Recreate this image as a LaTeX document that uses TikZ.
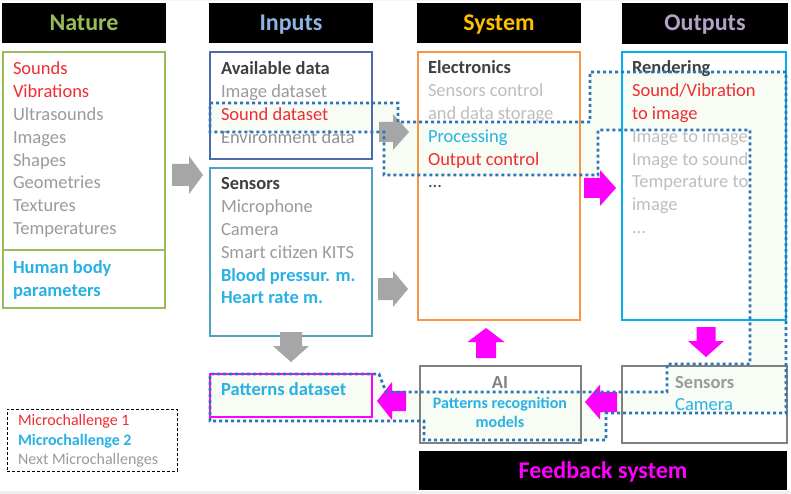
\documentclass[tikz,border=0pt]{standalone}
\usepackage{fontspec}
\setmainfont{Carlito}
\usetikzlibrary{calc}
\definecolor{natG}{RGB}{155,187,89}
\definecolor{inpB}{RGB}{141,180,226}
\definecolor{sysY}{RGB}{255,192,0}
\definecolor{outP}{RGB}{179,162,199}
\definecolor{availB}{RGB}{74,108,172}
\definecolor{sensT}{RGB}{75,165,195}
\definecolor{elecO}{RGB}{247,150,70}
\definecolor{rendB}{RGB}{0,176,240}
\definecolor{boxG}{RGB}{128,128,128}
\definecolor{mag}{RGB}{255,0,255}
\definecolor{redT}{RGB}{240,45,50}
\definecolor{cyT}{RGB}{41,177,229}
\definecolor{grT}{RGB}{155,155,155}
\definecolor{lgT}{RGB}{190,190,190}
\definecolor{dkT}{RGB}{64,64,64}
\definecolor{arrG}{RGB}{166,166,166}
\definecolor{bandF}{RGB}{247,252,244}
\definecolor{bandL}{RGB}{46,117,182}
\newcommand\fsB{\fontsize{18.5}{22.8}\selectfont}
\newcommand\fsH{\fontsize{24}{28}\selectfont\bfseries}
\newcommand\fsS{\fontsize{16}{19}\selectfont\bfseries}
\newcommand\fsL{\fontsize{16}{19.3}\selectfont}
\newcommand\harrow[7]{\fill[#1] (#2,#5-#6) -- (#3,#5-#6) -- (#3,#5-#7) -- (#4,#5) -- (#3,#5+#7) -- (#3,#5+#6) -- (#2,#5+#6) -- cycle;}
\newcommand\varrow[7]{\fill[#1] (#5-#6,#2) -- (#5-#6,#3) -- (#5-#7,#3) -- (#5,#4) -- (#5+#7,#3) -- (#5+#6,#3) -- (#5+#6,#2) -- cycle;}
\tikzset{
  box/.style={draw=#1, line width=2pt, inner sep=0pt, outer sep=0pt, anchor=north west},
  hdr/.style={fill=black, inner sep=0pt, outer sep=0pt, anchor=north west},
  txt/.style={inner sep=0pt, outer sep=0pt, anchor=north west, align=left, font=\fsB},
  htxt/.style={inner sep=0pt, anchor=base, font=\fsH},
}
\begin{document}
\begin{tikzpicture}[x=1pt,y=-1pt]
\useasboundingbox (0,0) rectangle (791,494);
\fill[white] (0,0) rectangle (791,494);
\fill[gray!12] (0,491) rectangle (791,494);
\fill[gray!8] (0,0) rectangle (791,1.5);

% band fill
\fill[bandF] (210,103) -- (398,103) -- (398,122) -- (590,122) -- (590,72) -- (786,72) -- (786,413)
  -- (606,413) -- (606,440) -- (424,440) -- (424,421) -- (210,421) -- (210,374) -- (379,374)
  -- (386,392) -- (667,392) -- (667,364) -- (750,364) -- (750,130) -- (598,130) -- (598,175)
  -- (384,175) -- (384,132) -- (210,132) -- cycle;

% headers
\node[hdr, minimum width=164pt, minimum height=40pt] (hNat) at (2,3) {};
\node[hdr, minimum width=164pt, minimum height=40pt] (hInp) at (209,3) {};
\node[hdr, minimum width=164pt, minimum height=40pt] (hSys) at (417,3) {};
\node[hdr, minimum width=166pt, minimum height=41pt] (hOut) at (622,3) {};
\node[hdr, minimum width=368pt, minimum height=39pt] (hFb) at (419,451) {};
\node[htxt, text=natG] (tNat) at (84,31) {Nature};
\node[htxt, text=inpB] (tInp) at (291,31) {Inputs};
\node[htxt, text=sysY] (tSys) at (499,31) {System};
\node[htxt, text=outP] (tOut) at (705,31) {Outputs};
\node[htxt, text=mag] (tFb) at (603,478) {Feedback system};

% boxes
\node[box=natG, minimum width=162pt, minimum height=198pt] (natA) at (3,52) {};
\node[box=natG, minimum width=162pt, minimum height=58pt] (natB) at (3,250) {};
\node[box=availB, minimum width=162pt, minimum height=107pt] (avail) at (210,52) {};
\node[box=sensT, minimum width=162pt, minimum height=168pt] (sens) at (210,168) {};
\node[box=elecO, minimum width=162pt, minimum height=268pt] (elec) at (418,52) {};
\node[box=rendB, minimum width=164pt, minimum height=268pt] (rend) at (622,52) {};
\node[box=boxG, minimum width=161pt, minimum height=77pt] (ai) at (420,366) {};
\node[box=boxG, minimum width=165pt, minimum height=77pt] (scam) at (622,366) {};
\node[box=mag, minimum width=162pt, minimum height=43pt] (pat) at (210,374) {};
\node[draw=black, line width=0.8pt, dash pattern=on 3pt off 2pt, inner sep=0pt, anchor=north west,
      minimum width=170pt, minimum height=62pt] (leg) at (7,409) {};

% block arrows
\harrow{arrG}{172}{189}{203}{175}{11}{19}
\harrow{arrG}{379}{393}{409}{132}{10}{18}
\harrow{arrG}{378}{393}{408}{289}{11}{18}
\varrow{arrG}{332}{346}{362}{291}{11}{18}
\harrow{mag}{584}{600}{616}{188}{10}{18}
\varrow{mag}{358}{342}{328}{486}{10}{18.5}
\varrow{mag}{327}{341}{357}{706}{9.5}{18}
\harrow{mag}{617}{600}{585}{402}{10}{17.5}
\harrow{mag}{406}{392}{377}{401}{10}{19}

% texts
\node[txt] (xNat) at (13,59) {\strut\textcolor{redT}{Sounds}\\
  \textcolor{redT}{Vibrations}\\
  \textcolor{grT}{Ultrasounds}\\
  \textcolor{grT}{Images}\\
  \textcolor{grT}{Shapes}\\
  \textcolor{grT}{Geometries}\\
  \textcolor{grT}{Textures}\\
  \textcolor{grT}{Temperatures}};
\node[txt] (xHum) at (13,258) {\strut\textcolor{cyT}{\bfseries Human body}\\
  \textcolor{cyT}{\bfseries parameters}};
\node[txt] (xAv) at (221,59) {\strut\textcolor{dkT}{\bfseries Available data}\\
  \textcolor{grT}{Image dataset}\\
  \textcolor{redT}{Sound dataset}\\
  \textcolor{grT!110}{Environment data}};
\node[txt] (xSe) at (221,174) {\strut\textcolor{dkT}{\bfseries Sensors}\\
  \textcolor{grT}{Microphone}\\
  \textcolor{grT}{Camera}\\
  \textcolor{grT}{Smart citizen KITS}\\
  \textcolor{cyT}{\bfseries Blood pressur. m.}\\
  \textcolor{cyT}{\bfseries Heart rate m.}};
\node[txt] (xEl) at (428,58) {\strut\textcolor{dkT}{\bfseries Electronics}\\
  \textcolor{lgT}{Sensors control}\\
  \textcolor{lgT}{and data storage}\\
  \textcolor{cyT}{Processing}\\
  \textcolor{redT}{Output control}\\
  \textcolor{dkT}{...}};
\node[txt] (xRe) at (632,58) {\strut\textcolor{dkT}{\bfseries Rendering}\\
  \textcolor{redT}{Sound/Vibration}\\
  \textcolor{redT}{to image}\\
  \textcolor{lgT}{Image to image}\\
  \textcolor{lgT}{Image to sound}\\
  \textcolor{lgT}{Temperature to}\\
  \textcolor{lgT}{image}\\
  \textcolor{lgT}{...}};
\node[inner sep=0pt, anchor=base, font=\fsB\bfseries, text=boxG] (xAI) at (500,388) {AI};
\node[inner sep=0pt, anchor=north, align=center, font=\fsS, text=cyT] (xPR) at (500,394.7)
  {\strut Patterns recognition\\ models};
\node[inner sep=0pt, anchor=base west, font=\fsB\bfseries, text=grT] (xSC) at (675,388) {Sensors};
\node[inner sep=0pt, anchor=base west, font=\fsB, text=cyT] (xCam) at (675,410) {Camera};
\node[inner sep=0pt, anchor=base west, font=\fsB\bfseries, text=cyT] (xPat) at (221,395) {Patterns dataset};
\node[txt, font=\fsL] (xLeg) at (18,412.2) {\strut\textcolor{redT}{Microchallenge 1}\\
  \textcolor{cyT}{\bfseries Microchallenge 2}\\
  \textcolor{grT}{Next Microchallenges}};

% band outline
\draw[bandL, line width=2.8pt, dash pattern=on 3pt off 3pt]
  (210,103) -- (398,103) -- (398,122) -- (590,122) -- (590,72) -- (786,72) -- (786,413)
  -- (606,413) -- (606,440) -- (424,440) -- (424,421) -- (210,421) -- (210,374) -- (379,374)
  -- (386,392) -- (667,392) -- (667,364) -- (750,364) -- (750,130) -- (598,130) -- (598,175)
  -- (384,175) -- (384,132) -- (210,132) -- cycle;
\end{tikzpicture}
\end{document}
